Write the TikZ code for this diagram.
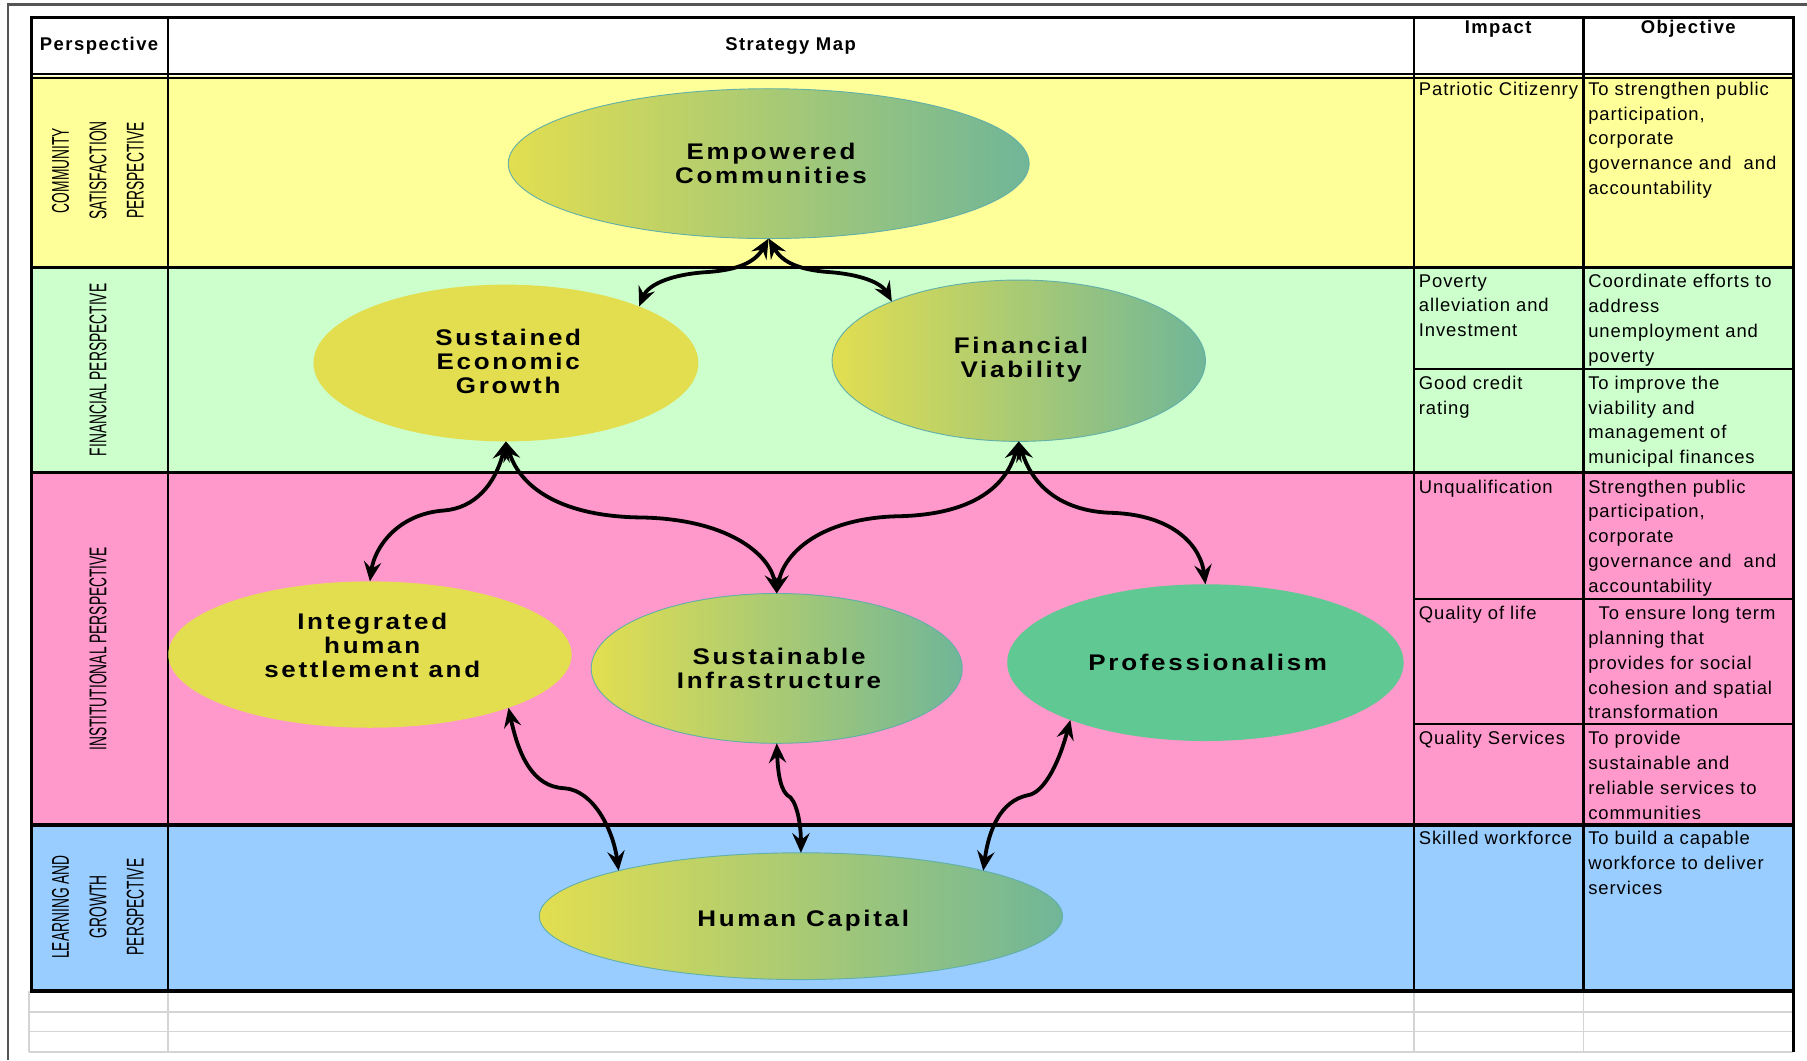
\documentclass[tikz,border=0pt]{standalone}
\usepackage{fontspec}
\setmainfont{Liberation Sans}
\newfontfamily\narrowfont{Liberation Sans}[FakeStretch=0.57]
\newfontfamily\ellfont{Liberation Sans}[FakeStretch=1.15,LetterSpace=12]
\newfontfamily\cellfont{Liberation Sans}[LetterSpace=5]
\newfontfamily\headfont{Liberation Sans}[LetterSpace=8]
\usetikzlibrary{arrows.meta,shapes.geometric}
\definecolor{rowY}{HTML}{FFFF99}
\definecolor{rowG}{HTML}{CCFFCC}
\definecolor{rowP}{HTML}{FF99CC}
\definecolor{rowB}{HTML}{99CCFF}
\definecolor{ellY}{HTML}{E2DE50}
\definecolor{ellM}{HTML}{C4D476}
\definecolor{ellT}{HTML}{70B698}
\definecolor{ellEdge}{HTML}{62B0A8}
\definecolor{proG}{HTML}{60C892}
\definecolor{gridgray}{HTML}{D4D4D4}
\definecolor{framegray}{HTML}{555555}
\begin{document}
\begin{tikzpicture}[x=1pt,y=-1pt,
  ell/.style={ellipse, inner sep=0pt, outer sep=0pt},
  gradell/.style={ell, draw=ellEdge, line width=0.8pt, left color=ellY, middle color=ellM, right color=ellT},
  solidell/.style={ell, fill=#1},
  elltext/.style={inner sep=0pt, align=center, font=\ellfont\bfseries\fontsize{19.6}{20.8}\selectfont},
  link/.style={line width=3.3pt, {Stealth[length=17pt,width=15pt,inset=6pt]}-{Stealth[length=17pt,width=15pt,inset=6pt]}},
  rowlab/.style={rotate=90, inner sep=0pt, align=center, font=\narrowfont\fontsize{21}{32.5}\selectfont},
  cell/.style={anchor=north west, inner sep=0pt, align=left, font=\cellfont\fontsize{16}{21.5}\selectfont},
  head/.style={inner sep=0pt, font=\headfont\bfseries\fontsize{16}{19}\selectfont},
  heavy/.style={line width=3pt},
  thin/.style={line width=2pt}
]
\useasboundingbox (0,0) rectangle (1568,920);
\fill[white] (0,0) rectangle (1568,920);
% row backgrounds
\fill[white] (27,15) rectangle (1556,66);
\fill[rowY] (27,66) rectangle (1556,232);
\fill[rowG] (27,232) rectangle (1556,410);
\fill[rowP] (27,410) rectangle (1556,716);
\fill[rowB] (27,716) rectangle (1556,860);
% grey empty rows
\draw[gridgray, line width=1.5pt] (25,878) -- (1556,878) (25,895) -- (1556,895) (25,913) -- (1556,913)
  (25,860) -- (25,913) (146,860) -- (146,913) (1227,860) -- (1227,913) (1374,860) -- (1374,913);
% outer frame
\draw[framegray, line width=2pt] (7,920) -- (7,4) -- (1568,4);
% table lines
\draw[thin] (146,15) -- (146,860) (1227,15) -- (1227,860) (1374,15) -- (1374,860);
\draw[thin] (1227,320) -- (1556,320) (1227,520) -- (1556,520) (1227,628) -- (1556,628);
\draw[line width=1.3pt] (27,64) -- (1556,64) (27,67.5) -- (1556,67.5);
\draw[heavy] (27,232) -- (1556,232) (27,410) -- (1556,410) (27,716) -- (1556,716) (26,860) -- (1556,860);
\draw[line width=2.5pt] (27,860) -- (27,15) -- (1556,15) -- (1556,913);
% headers
\node[head] (hPer) at (86,40) {Perspective};
\node[head] (hMap) at (686,40) {Strategy Map};
\node[head] (hImp) at (1300,25) {Impact};
\node[head] (hObj) at (1465,25) {Objective};
% row labels
\node[rowlab] (lCom) at (85,148) {COMMUNITY\\SATISFACTION\\PERSPECTIVE};
\node[rowlab] (lFin) at (85,321) {FINANCIAL PERSPECTIVE};
\node[rowlab] (lIns) at (85,563) {INSTITUTIONAL PERSPECTIVE};
\node[rowlab] (lLea) at (85,787) {LEARNING AND\\GROWTH\\PERSPECTIVE};
% impact / objective cells
\node[cell] (i1) at (1231,71) {Patriotic Citizenry};
\node[cell] (o1) at (1378,71) {To strengthen public\\participation,\\corporate\\governance and\ \ and\\accountability};
\node[cell] (i2) at (1231,238) {Poverty\\alleviation and\\Investment};
\node[cell] (o2) at (1378,238) {Coordinate efforts to\\address\\unemployment and\\poverty};
\node[cell] (i3) at (1231,326) {Good credit\\rating};
\node[cell] (o3) at (1378,326) {To improve the\\viability and\\management of\\municipal finances};
\node[cell] (i4) at (1231,416) {Unqualification};
\node[cell] (o4) at (1378,416) {Strengthen public\\participation,\\corporate\\governance and\ \ and\\accountability};
\node[cell] (i5) at (1231,526) {Quality of life};
\node[cell] (o5) at (1378,526) {\hspace*{9pt}To ensure long term\\planning that\\provides for social\\cohesion and spatial\\transformation};
\node[cell] (i6) at (1231,634.5) {Quality Services};
\node[cell] (o6) at (1378,634.5) {To provide\\sustainable and\\reliable services to\\communities};
\node[cell] (i7) at (1231,721) {Skilled workforce};
\node[cell] (o7) at (1378,721) {To build a capable\\workforce to deliver\\services};
% ellipses
\node[gradell, minimum width=452pt, minimum height=130pt] (emp) at (667,142) {};
\node[solidell=ellY, minimum width=334pt, minimum height=136pt] (sus) at (439,315) {};
\node[gradell, minimum width=324pt, minimum height=140pt] (fin) at (884,313) {};
\node[solidell=ellY, minimum width=350pt, minimum height=127pt] (int) at (321,568) {};
\node[gradell, minimum width=322pt, minimum height=130pt] (inf) at (674,580) {};
\node[solidell=proG, minimum width=344pt, minimum height=136pt] (pro) at (1046,575) {};
\node[gradell, minimum width=454pt, minimum height=110pt] (hc) at (695,795) {};
\node[elltext] (empT) at (669,142) {Empowered\\Communities};
\node[elltext] (susT) at (441,314) {Sustained\\Economic\\Growth};
\node[elltext] (finT) at (886,312) {Financial\\Viability};
\node[elltext] (intT) at (323,560) {Integrated\\human\\settlement and};
\node[elltext] (infT) at (676,580) {Sustainable\\Infrastructure};
\node[elltext] (proT) at (1048,575) {Professionalism};
\node[elltext] (hcT) at (697,799) {Human Capital};
% connectors
\draw[link] (emp.south) .. controls (655,228) and (640,234) .. (615,236) .. controls (580,238) and (562,248) .. (sus.23);
\draw[link] (emp.south) .. controls (679,228) and (694,234) .. (718,236) .. controls (748,238) and (765,246) .. (fin.155);
\draw[link] (sus.south) .. controls (430,420) and (412,441) .. (385,443) .. controls (345,446) and (325,475) .. (int.north);
\draw[link] (sus.south) .. controls (452,425) and (490,448) .. (555,449) .. controls (630,450) and (668,480) .. (inf.north);
\draw[link] (fin.south) .. controls (872,425) and (840,447) .. (778,448) .. controls (712,450) and (680,480) .. (inf.north);
\draw[link] (fin.south) .. controls (897,425) and (925,444) .. (965,445) .. controls (1020,447) and (1042,475) .. (pro.north);
\draw[link] (int.-21) .. controls (450,655) and (462,683) .. (490,684) .. controls (515,686) and (532,720) .. (hc.166);
\draw[link] (inf.south) .. controls (675,670) and (677,688) .. (686,692) .. controls (693,700) and (695,720) .. (hc.north);
\draw[link] (pro.203) .. controls (918,665) and (905,688) .. (892,690) .. controls (868,695) and (858,720) .. (hc.14);
\end{tikzpicture}
\end{document}
